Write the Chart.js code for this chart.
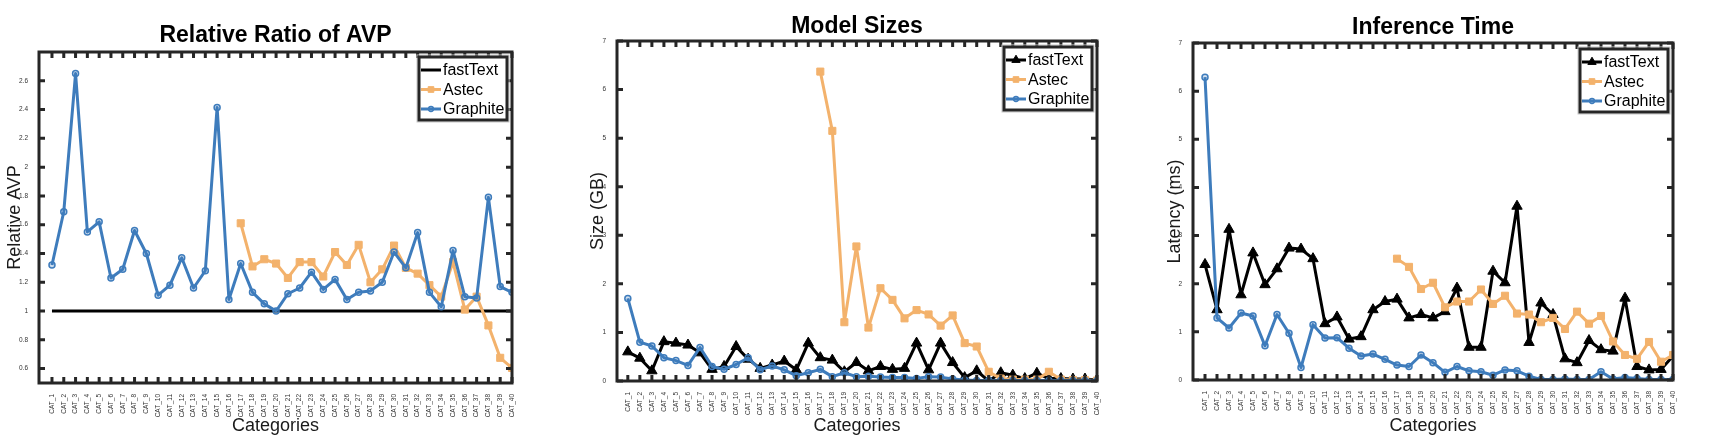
<!DOCTYPE html>
<html lang="en">
<head>
<meta charset="UTF-8">
<title>Relative Ratio of AVP, Model Sizes, Inference Time</title>
<script src="https://cdn.jsdelivr.net/npm/chart.js"></script>
<style>
    html, body { margin: 0; padding: 0; background: #fff; }
    body { width: 1728px; height: 446px; position: relative; overflow: hidden; }
    canvas { position: absolute; top: 0; }
</style>
</head>
<body>
<canvas id="avp" width="560" height="446" style="left:0px"></canvas>
<canvas id="size" width="570" height="446" style="left:570px"></canvas>
<canvas id="time" width="588" height="446" style="left:1140px"></canvas>

<script>
// ---- data ----
const categories = Array.from({ length: 40 }, (_, i) => 'CAT_' + (i + 1));
const N16 = [null, null, null, null, null, null, null, null, null, null, null, null, null, null, null, null];

// Relative Ratio of AVP
const avpTicks = [0.6, 0.8, 1, 1.2, 1.4, 1.6, 1.8, 2, 2.2, 2.4, 2.6];
const avpFastText = [1, 1, 1, 1, 1, 1, 1, 1, 1, 1, 1, 1, 1, 1, 1, 1, 1, 1, 1, 1,
                     1, 1, 1, 1, 1, 1, 1, 1, 1, 1, 1, 1, 1, 1, 1, 1, 1, 1, 1, 1];
const avpAstec = N16.concat([1.61, 1.31, 1.36, 1.33, 1.23, 1.34, 1.34, 1.24, 1.41, 1.32, 1.46, 1.20,
                             1.29, 1.455, 1.30, 1.26, 1.18, 1.10, 1.34, 1.01, 1.10, 0.90, 0.675, 0.605]);
const avpGraphite = [1.32, 1.69, 2.65, 1.55, 1.62, 1.23, 1.29, 1.56, 1.40, 1.11, 1.18, 1.37, 1.16, 1.28,
                     2.415, 1.08, 1.33, 1.13, 1.05, 1.00, 1.12, 1.16, 1.27, 1.15, 1.22, 1.08, 1.13, 1.14,
                     1.20, 1.41, 1.30, 1.545, 1.13, 1.03, 1.42, 1.10, 1.09, 1.79, 1.17, 1.13];

// Model Sizes (GB)
const unitTicks = [0, 1, 2, 3, 4, 5, 6, 7];
const sizeFastText = [0.60, 0.47, 0.21, 0.81, 0.78, 0.74, 0.58, 0.24, 0.30, 0.71, 0.45, 0.26, 0.33, 0.41,
                      0.23, 0.78, 0.48, 0.43, 0.19, 0.38, 0.21, 0.30, 0.24, 0.26, 0.78, 0.23, 0.78, 0.38,
                      0.07, 0.21, 0.00, 0.17, 0.12, 0.05, 0.16, 0.05, 0.05, 0.04, 0.04, 0.02];
const sizeAstec = N16.concat([6.37, 5.15, 1.21, 2.77, 1.10, 1.91, 1.67, 1.29, 1.46, 1.37, 1.14, 1.35,
                              0.78, 0.71, 0.19, 0.05, 0.03, 0.03, 0.03, 0.19, 0.03, 0.02, 0.02, 0.01]);
const sizeGraphite = [1.70, 0.80, 0.72, 0.48, 0.42, 0.32, 0.69, 0.30, 0.24, 0.34, 0.48, 0.23, 0.31, 0.23,
                      0.11, 0.17, 0.24, 0.09, 0.17, 0.09, 0.10, 0.08, 0.07, 0.07, 0.05, 0.09, 0.08, 0.04,
                      0.02, 0.01, 0.01, 0.01, 0.01, 0.01, 0.01, 0.01, 0.01, 0.01, 0.01, 0.01];

// Inference Time (ms)
const timeFastText = [2.40, 1.46, 3.13, 1.77, 2.64, 1.98, 2.31, 2.74, 2.72, 2.52, 1.17, 1.31, 0.85, 0.90,
                      1.46, 1.63, 1.68, 1.29, 1.36, 1.29, 1.42, 1.91, 0.68, 0.68, 2.26, 2.02, 3.61, 0.78,
                      1.60, 1.36, 0.44, 0.36, 0.82, 0.63, 0.60, 1.70, 0.28, 0.21, 0.22, 0.50];
const timeAstec = N16.concat([2.52, 2.35, 1.89, 2.02, 1.51, 1.63, 1.63, 1.88, 1.58, 1.75, 1.38, 1.36,
                              1.20, 1.29, 1.06, 1.42, 1.17, 1.33, 0.80, 0.52, 0.44, 0.79, 0.38, 0.52]);
const timeGraphite = [6.29, 1.29, 1.08, 1.39, 1.33, 0.71, 1.36, 0.97, 0.26, 1.15, 0.87, 0.88, 0.66, 0.50,
                      0.54, 0.43, 0.31, 0.28, 0.52, 0.36, 0.16, 0.28, 0.19, 0.17, 0.10, 0.21, 0.19, 0.08,
                      0.01, 0.01, 0.02, 0.01, 0.01, 0.17, 0.02, 0.05, 0.03, 0.01, 0.01, 0.01];

// ---- styling ----
const FONT = '"Liberation Sans", Arial, Helvetica, sans-serif';
const FRAME = '#262626';
const BLACK = '#000000';
const ORANGE = '#f3b26c';
const BLUE = '#3e7cbc';
Chart.defaults.font.family = FONT;

function toPoints(values) {
    return values.map((v, i) => ({ x: i + 1, y: v }));
}

function fastTextSet(values, withMarkers) {
    return {
        label: 'fastText', data: toPoints(values), order: 3,
        borderColor: BLACK, backgroundColor: BLACK, borderWidth: 3, borderJoinStyle: 'round',
        pointStyle: 'triangle', pointRadius: withMarkers ? 6 : 0, pointBorderWidth: 1
    };
}
function astecSet(values) {
    return {
        label: 'Astec', data: toPoints(values), order: 2,
        borderColor: ORANGE, backgroundColor: ORANGE, borderWidth: 3, borderJoinStyle: 'round',
        pointStyle: 'rect', pointRadius: 5, pointBorderWidth: 1
    };
}
function graphiteSet(values) {
    return {
        label: 'Graphite', data: toPoints(values), order: 1,
        borderColor: BLUE, backgroundColor: 'rgba(62,124,188,0.25)', borderWidth: 3, borderJoinStyle: 'round',
        pointStyle: 'circle', pointRadius: 3, pointBorderWidth: 1.5
    };
}

// MATLAB-like box: frame, inward ticks, title and legend in the upper right
const matlabBox = {
    id: 'matlabBox',
    afterDraw(chart, args, opts) {
        const { ctx, chartArea: a, scales: { x, y } } = chart;
        ctx.save();

        ctx.strokeStyle = FRAME;
        ctx.lineWidth = 3;
        ctx.beginPath();
        x.ticks.forEach(t => {
            const px = x.getPixelForValue(t.value);
            ctx.moveTo(px, a.bottom); ctx.lineTo(px, a.bottom - 6);
            ctx.moveTo(px, a.top); ctx.lineTo(px, a.top + 6);
        });
        y.ticks.forEach(t => {
            const py = y.getPixelForValue(t.value);
            ctx.moveTo(a.left, py); ctx.lineTo(a.left + 6, py);
            ctx.moveTo(a.right, py); ctx.lineTo(a.right - 6, py);
        });
        ctx.stroke();
        ctx.strokeRect(a.left, a.top, a.right - a.left, a.bottom - a.top);

        // title
        ctx.fillStyle = '#000';
        ctx.font = 'bold 23px ' + FONT;
        ctx.textAlign = 'center';
        ctx.textBaseline = 'middle';
        ctx.fillText(opts.title, (a.left + a.right) / 2, opts.titleY);

        // legend
        const w = 88, h = 63;
        const lx = a.right - 5 - w, ly = a.top + opts.legendTop;
        ctx.fillStyle = '#fff';
        ctx.fillRect(lx, ly, w, h);
        ctx.strokeStyle = '#c8c8c8';
        ctx.lineWidth = 1;
        ctx.strokeRect(lx - 2, ly - 2, w + 4, h + 4);
        ctx.strokeStyle = FRAME;
        ctx.lineWidth = 3;
        ctx.strokeRect(lx, ly, w, h);
        ctx.font = '16px ' + FONT;
        ctx.textAlign = 'left';
        chart.data.datasets.forEach((ds, i) => {
            const cy = ly + 13 + i * 19.5;
            ctx.strokeStyle = ds.borderColor;
            ctx.lineWidth = 3;
            ctx.beginPath();
            ctx.moveTo(lx + 2, cy); ctx.lineTo(lx + 22, cy);
            ctx.stroke();
            if (ds.pointRadius > 0) {
                ctx.fillStyle = ds.backgroundColor;
                ctx.lineWidth = ds.pointBorderWidth;
                Chart.helpers.drawPoint(ctx, {
                    pointStyle: ds.pointStyle, rotation: 0,
                    radius: ds.pointRadius * 0.8, borderWidth: ds.pointBorderWidth
                }, lx + 12, cy);
            }
            ctx.fillStyle = '#000';
            ctx.fillText(ds.label, lx + 24, cy + 1);
        });
        ctx.restore();
    }
};

function makePanel(id, p) {
    new Chart(document.getElementById(id), {
        type: 'line',
        data: { datasets: p.datasets },
        plugins: [matlabBox],
        options: {
            responsive: false,
            animation: false,
            events: [],
            layout: { padding: { left: 0, right: p.padRight, top: p.top, bottom: 0 } },
            plugins: {
                legend: { display: false },
                tooltip: { enabled: false },
                matlabBox: { title: p.title, titleY: p.titleY, legendTop: p.legendTop }
            },
            scales: {
                x: {
                    type: 'linear', min: p.xMin, max: 40,
                    afterBuildTicks: s => { s.ticks = categories.map((c, i) => ({ value: i + 1 })); },
                    afterFit: s => { s.height = p.xHeight; },
                    grid: { display: false }, border: { display: false },
                    ticks: {
                        autoSkip: false, maxRotation: 90, minRotation: 90, padding: 3,
                        color: '#333', font: { size: 6.5 },
                        callback: v => categories[v - 1]
                    },
                    title: {
                        display: true, text: 'Categories', color: '#1a1a1a',
                        font: { size: 18 }, padding: { top: 0, bottom: 9 }
                    }
                },
                y: {
                    min: p.yMin, max: p.yMax,
                    afterBuildTicks: s => { s.ticks = p.yTicks.map(v => ({ value: v })); },
                    afterFit: s => { s.width = p.yWidth; },
                    grid: { display: false }, border: { display: false },
                    ticks: {
                        padding: 3, color: '#333', font: { size: 6.5 },
                        callback: v => String(+v.toFixed(1))
                    },
                    title: {
                        display: true, text: p.yTitle, color: '#1a1a1a',
                        font: { size: 18 }, padding: { top: p.yTitlePad, bottom: 0 }
                    }
                }
            }
        }
    });
}

makePanel('avp', {
    title: 'Relative Ratio of AVP', titleY: 35.5, legendTop: 5,
    top: 52, padRight: 48, xHeight: 63, yWidth: 39, yTitlePad: 4.7, xMin: -0.1,
    yMin: 0.5, yMax: 2.8, yTicks: avpTicks, yTitle: 'Relative AVP',
    datasets: [fastTextSet(avpFastText, false), astecSet(avpAstec), graphiteSet(avpGraphite)]
});

makePanel('size', {
    title: 'Model Sizes', titleY: 26.5, legendTop: 6,
    top: 41, padRight: 43, xHeight: 65, yWidth: 47, yTitlePad: 17.2, xMin: 0.1,
    yMin: 0, yMax: 7, yTicks: unitTicks, yTitle: 'Size (GB)',
    datasets: [fastTextSet(sizeFastText, true), astecSet(sizeAstec), graphiteSet(sizeGraphite)]
});

makePanel('time', {
    title: 'Inference Time', titleY: 27.5, legendTop: 6,
    top: 43, padRight: 55, xHeight: 66, yWidth: 53, yTitlePad: 24.2, xMin: 0,
    yMin: 0, yMax: 7, yTicks: unitTicks, yTitle: 'Latency (ms)',
    datasets: [fastTextSet(timeFastText, true), astecSet(timeAstec), graphiteSet(timeGraphite)]
});
</script>
</body>
</html>
